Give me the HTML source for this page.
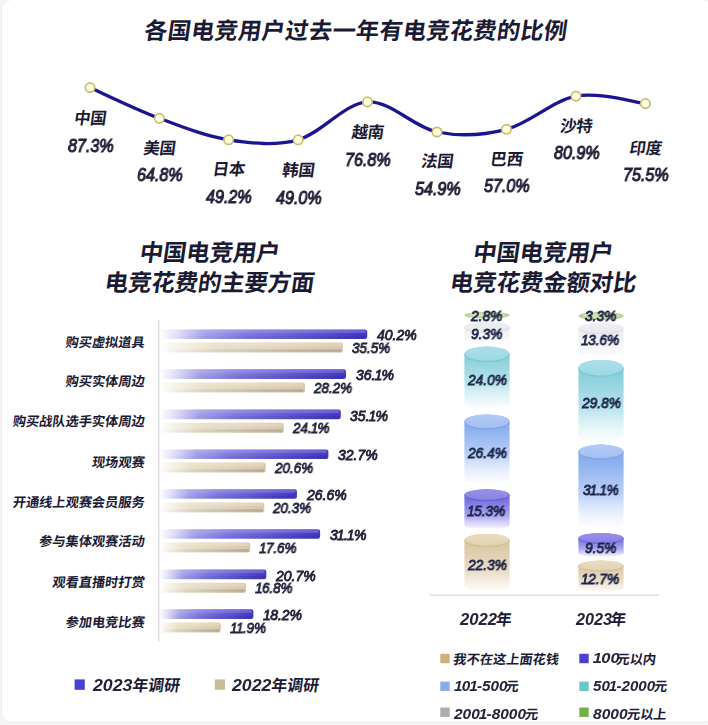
<!DOCTYPE html>
<html lang="zh-CN">
<head>
<meta charset="utf-8">
<title>各国电竞用户过去一年有电竞花费的比例</title>
<style>
html,body{margin:0;padding:0}
body{width:708px;height:725px;overflow:hidden;background:#f5f5f5;font-family:"Liberation Sans",sans-serif}
#card{position:absolute;left:0.5px;top:-1px;width:713px;height:724px;box-sizing:border-box;background:#fff;border:1px solid #ececec;border-radius:11px}
#stage{position:absolute;left:0;top:0;width:708px;height:725px;overflow:hidden}
#gfx{position:absolute;left:0;top:0}
#gfx text{font-family:"Liberation Sans","Noto Sans CJK SC",sans-serif;font-weight:700;fill:#1a1a34}
.n{position:absolute;white-space:nowrap;font-family:"Liberation Sans",sans-serif;font-weight:400;font-style:italic;color:#23233a;-webkit-text-stroke:.7px #23233a;transform-origin:0 50%;will-change:transform}
.n.d{color:#1c2548;-webkit-text-stroke-color:#1c2548}
.n.b{font-weight:700;-webkit-text-stroke-width:0}
.n b{font-weight:inherit;margin:0 -.05em 0 -.07em}
</style>
</head>
<body>
<div id="stage">
<div id="card"></div>
<svg id="gfx" width="708" height="725" viewBox="0 0 708 725">
<defs>
<linearGradient id="hl" x1="0" y1="0" x2="1" y2="0"><stop offset="0" stop-color="#fff" stop-opacity="0"/><stop offset=".3" stop-color="#fff" stop-opacity=".12"/><stop offset="1" stop-color="#fff" stop-opacity=".2"/></linearGradient>
<linearGradient id="sh" x1="0" y1="0" x2="1" y2="0"><stop offset="0" stop-color="#10103a" stop-opacity="0"/><stop offset=".3" stop-color="#10103a" stop-opacity=".06"/><stop offset="1" stop-color="#10103a" stop-opacity=".16"/></linearGradient>
<linearGradient id="gp" x1="0" y1="0" x2="1" y2="0"><stop offset="0" stop-color="#9a96e8" stop-opacity="0"/><stop offset=".08" stop-color="#9a96e8" stop-opacity=".28"/><stop offset=".22" stop-color="#9591e5" stop-opacity=".85"/><stop offset=".42" stop-color="#807ae0"/><stop offset="1" stop-color="#4236c6"/></linearGradient>
<linearGradient id="gb" x1="0" y1="0" x2="1" y2="0"><stop offset="0" stop-color="#ebe2cd" stop-opacity="0"/><stop offset=".1" stop-color="#ebe2cd" stop-opacity=".4"/><stop offset=".3" stop-color="#e8dec8" stop-opacity=".95"/><stop offset="1" stop-color="#d8c8aa"/></linearGradient>
<linearGradient id="cgy" x1="0" y1="0" x2="0" y2="1"><stop offset="0" stop-color="#e7e7ec"/><stop offset="1" stop-color="#f3f3f6" stop-opacity=".4"/></linearGradient>
<linearGradient id="ctl" x1="0" y1="0" x2="0" y2="1"><stop offset="0" stop-color="#80cad8"/><stop offset=".2" stop-color="#8bd0dc"/><stop offset=".6" stop-color="#b9e4ec"/><stop offset="1" stop-color="#ecf8f9" stop-opacity=".35"/></linearGradient>
<linearGradient id="cbl" x1="0" y1="0" x2="0" y2="1"><stop offset="0" stop-color="#84a9ec"/><stop offset=".2" stop-color="#8cafee"/><stop offset=".6" stop-color="#bcd1f7"/><stop offset="1" stop-color="#f2f6fe" stop-opacity=".3"/></linearGradient>
<linearGradient id="cpu" x1="0" y1="0" x2="0" y2="1"><stop offset="0" stop-color="#6c64dc"/><stop offset=".3" stop-color="#7a73e1"/><stop offset=".7" stop-color="#b0abf0"/><stop offset="1" stop-color="#e6e4fb" stop-opacity=".6"/></linearGradient>
<linearGradient id="cbe" x1="0" y1="0" x2="0" y2="1"><stop offset="0" stop-color="#d6c29c"/><stop offset=".25" stop-color="#dccaa8"/><stop offset=".7" stop-color="#ecdfcb"/><stop offset="1" stop-color="#f7f3ea" stop-opacity=".5"/></linearGradient>
<linearGradient id="tgy" x1="0" y1="0" x2="0" y2="1"><stop offset="0" stop-color="#efeff3"/><stop offset="1" stop-color="#e8e8ed"/></linearGradient>
<linearGradient id="ttl" x1="0" y1="0" x2="0" y2="1"><stop offset="0" stop-color="#acdfe8"/><stop offset="1" stop-color="#9ad8e2"/></linearGradient>
<linearGradient id="tbl" x1="0" y1="0" x2="0" y2="1"><stop offset="0" stop-color="#b2caf5"/><stop offset="1" stop-color="#a2bef1"/></linearGradient>
<linearGradient id="tpu" x1="0" y1="0" x2="0" y2="1"><stop offset="0" stop-color="#9891e9"/><stop offset="1" stop-color="#8881e4"/></linearGradient>
<linearGradient id="tbe" x1="0" y1="0" x2="0" y2="1"><stop offset="0" stop-color="#ebdcc0"/><stop offset="1" stop-color="#e2d2b2"/></linearGradient>
</defs>
<path d="M90.0 87.6C101.5 92.7 136.2 109.6 159.3 118.3C182.4 127.0 205.4 136.2 228.6 139.8C251.8 143.4 275.1 146.1 298.2 139.8C321.3 133.5 344.4 103.2 367.5 101.9C390.6 100.6 413.9 127.4 437.0 132.0C460.1 136.6 483.2 135.3 506.4 129.3C529.6 123.3 552.8 100.4 576.0 96.1C599.2 91.8 633.8 102.3 645.4 103.6" fill="none" stroke="#1c1590" stroke-width="3.3" stroke-linecap="round"/>
<circle cx="90.0" cy="87.6" r="4.7" fill="#fffde2" stroke="#c6c06c" stroke-width="1.7"/>
<circle cx="159.3" cy="118.3" r="4.7" fill="#fffde2" stroke="#c6c06c" stroke-width="1.7"/>
<circle cx="228.6" cy="139.8" r="4.7" fill="#fffde2" stroke="#c6c06c" stroke-width="1.7"/>
<circle cx="298.2" cy="139.8" r="4.7" fill="#fffde2" stroke="#c6c06c" stroke-width="1.7"/>
<circle cx="367.5" cy="101.9" r="4.7" fill="#fffde2" stroke="#c6c06c" stroke-width="1.7"/>
<circle cx="437.0" cy="132.0" r="4.7" fill="#fffde2" stroke="#c6c06c" stroke-width="1.7"/>
<circle cx="506.4" cy="129.3" r="4.7" fill="#fffde2" stroke="#c6c06c" stroke-width="1.7"/>
<circle cx="576.0" cy="96.1" r="4.7" fill="#fffde2" stroke="#c6c06c" stroke-width="1.7"/>
<circle cx="645.4" cy="103.6" r="4.7" fill="#fffde2" stroke="#c6c06c" stroke-width="1.7"/>
<rect x="158.0" y="320" width="1.4" height="321.5" fill="#dcdce0"/>
<path d="M159.2 329.4h205.8q2.2 0 2.2 2.2v5.2q0 2.2 -2.2 2.2h-205.8z" fill="url(#gp)"/>
<path d="M159.2 342.6h181.5q2.2 0 2.2 2.2v5.6q0 2.2 -2.2 2.2h-181.5z" fill="url(#gb)"/>
<rect x="159.2" y="329.8" width="206.4" height="3.1" fill="url(#hl)"/>
<rect x="159.2" y="335.7" width="206.4" height="3.0" fill="url(#sh)"/>
<rect x="159.2" y="343.0" width="182.1" height="3.2" fill="url(#hl)"/>
<rect x="159.2" y="349.2" width="182.1" height="3.1" fill="url(#sh)"/>
<path d="M159.2 369.3h184.6q2.2 0 2.2 2.2v5.2q0 2.2 -2.2 2.2h-184.6z" fill="url(#gp)"/>
<path d="M159.2 382.5h143.7q2.2 0 2.2 2.2v5.6q0 2.2 -2.2 2.2h-143.7z" fill="url(#gb)"/>
<rect x="159.2" y="369.7" width="185.2" height="3.1" fill="url(#hl)"/>
<rect x="159.2" y="375.6" width="185.2" height="3.0" fill="url(#sh)"/>
<rect x="159.2" y="382.9" width="144.3" height="3.2" fill="url(#hl)"/>
<rect x="159.2" y="389.1" width="144.3" height="3.1" fill="url(#sh)"/>
<path d="M159.2 409.6h179.4q2.2 0 2.2 2.2v5.2q0 2.2 -2.2 2.2h-179.4z" fill="url(#gp)"/>
<path d="M159.2 422.8h122.5q2.2 0 2.2 2.2v5.6q0 2.2 -2.2 2.2h-122.5z" fill="url(#gb)"/>
<rect x="159.2" y="410.0" width="180.0" height="3.1" fill="url(#hl)"/>
<rect x="159.2" y="415.9" width="180.0" height="3.0" fill="url(#sh)"/>
<rect x="159.2" y="423.2" width="123.1" height="3.2" fill="url(#hl)"/>
<rect x="159.2" y="429.4" width="123.1" height="3.1" fill="url(#sh)"/>
<path d="M159.2 449.4h167.0q2.2 0 2.2 2.2v5.2q0 2.2 -2.2 2.2h-167.0z" fill="url(#gp)"/>
<path d="M159.2 462.6h104.4q2.2 0 2.2 2.2v5.6q0 2.2 -2.2 2.2h-104.4z" fill="url(#gb)"/>
<rect x="159.2" y="449.8" width="167.6" height="3.1" fill="url(#hl)"/>
<rect x="159.2" y="455.7" width="167.6" height="3.0" fill="url(#sh)"/>
<rect x="159.2" y="463.0" width="105.0" height="3.2" fill="url(#hl)"/>
<rect x="159.2" y="469.2" width="105.0" height="3.1" fill="url(#sh)"/>
<path d="M159.2 489.2h135.5q2.2 0 2.2 2.2v5.2q0 2.2 -2.2 2.2h-135.5z" fill="url(#gp)"/>
<path d="M159.2 502.4h102.9q2.2 0 2.2 2.2v5.6q0 2.2 -2.2 2.2h-102.9z" fill="url(#gb)"/>
<rect x="159.2" y="489.6" width="136.1" height="3.1" fill="url(#hl)"/>
<rect x="159.2" y="495.5" width="136.1" height="3.0" fill="url(#sh)"/>
<rect x="159.2" y="502.8" width="103.5" height="3.2" fill="url(#hl)"/>
<rect x="159.2" y="509.0" width="103.5" height="3.1" fill="url(#sh)"/>
<path d="M159.2 529.2h158.7q2.2 0 2.2 2.2v5.2q0 2.2 -2.2 2.2h-158.7z" fill="url(#gp)"/>
<path d="M159.2 542.4h88.9q2.2 0 2.2 2.2v5.6q0 2.2 -2.2 2.2h-88.9z" fill="url(#gb)"/>
<rect x="159.2" y="529.6" width="159.3" height="3.1" fill="url(#hl)"/>
<rect x="159.2" y="535.5" width="159.3" height="3.0" fill="url(#sh)"/>
<rect x="159.2" y="542.8" width="89.5" height="3.2" fill="url(#hl)"/>
<rect x="159.2" y="549.0" width="89.5" height="3.1" fill="url(#sh)"/>
<path d="M159.2 569.6h104.9q2.2 0 2.2 2.2v5.2q0 2.2 -2.2 2.2h-104.9z" fill="url(#gp)"/>
<path d="M159.2 582.8h84.7q2.2 0 2.2 2.2v5.6q0 2.2 -2.2 2.2h-84.7z" fill="url(#gb)"/>
<rect x="159.2" y="570.0" width="105.5" height="3.1" fill="url(#hl)"/>
<rect x="159.2" y="575.9" width="105.5" height="3.0" fill="url(#sh)"/>
<rect x="159.2" y="583.2" width="85.3" height="3.2" fill="url(#hl)"/>
<rect x="159.2" y="589.4" width="85.3" height="3.1" fill="url(#sh)"/>
<path d="M159.2 609.3h92.0q2.2 0 2.2 2.2v5.2q0 2.2 -2.2 2.2h-92.0z" fill="url(#gp)"/>
<path d="M159.2 622.5h59.4q2.2 0 2.2 2.2v5.6q0 2.2 -2.2 2.2h-59.4z" fill="url(#gb)"/>
<rect x="159.2" y="609.7" width="92.6" height="3.1" fill="url(#hl)"/>
<rect x="159.2" y="615.6" width="92.6" height="3.0" fill="url(#sh)"/>
<rect x="159.2" y="622.9" width="60.0" height="3.2" fill="url(#hl)"/>
<rect x="159.2" y="629.1" width="60.0" height="3.1" fill="url(#sh)"/>
<rect x="74.6" y="679.4" width="10.2" height="10.4" fill="#4a40d0"/>
<rect x="214.8" y="679.4" width="10.2" height="10.4" fill="#c9bb94"/>
<ellipse cx="487" cy="315.2" rx="22.6" ry="3.4" fill="#bfd398"/>
<ellipse cx="487" cy="314.9" rx="18.1" ry="1.9" fill="#cfe0b4"/>
<path d="M464.4 327.2V339.0A22.6 3.0 0 0 0 509.6 339.0V327.2A22.6 5.5 0 0 0 464.4 327.2z" fill="url(#cgy)"/>
<ellipse cx="487" cy="327.2" rx="22.6" ry="5.5" fill="url(#tgy)"/>
<path d="M464.8 327.2A22.2 5.5 0 0 0 509.2 327.2" fill="none" stroke="#cfcfd8" stroke-opacity=".45" stroke-width="1.1"/>
<path d="M464.4 354.0V404.4A22.6 4.1 0 0 0 509.6 404.4V354.0A22.6 7.4 0 0 0 464.4 354.0z" fill="url(#ctl)"/>
<ellipse cx="487" cy="354.0" rx="22.6" ry="7.4" fill="url(#ttl)"/>
<path d="M464.8 354.0A22.2 7.4 0 0 0 509.2 354.0" fill="none" stroke="#56b4c6" stroke-opacity=".45" stroke-width="1.1"/>
<path d="M464.4 421.6V479.5A22.6 4.0 0 0 0 509.6 479.5V421.6A22.6 7.2 0 0 0 464.4 421.6z" fill="url(#cbl)"/>
<ellipse cx="487" cy="421.6" rx="22.6" ry="7.2" fill="url(#tbl)"/>
<path d="M464.8 421.6A22.2 7.2 0 0 0 509.2 421.6" fill="none" stroke="#5a8ade" stroke-opacity=".45" stroke-width="1.1"/>
<path d="M464.4 494.9V525.4A22.6 3.1 0 0 0 509.6 525.4V494.9A22.6 5.6 0 0 0 464.4 494.9z" fill="url(#cpu)"/>
<ellipse cx="487" cy="494.9" rx="22.6" ry="5.6" fill="url(#tpu)"/>
<path d="M464.8 494.9A22.2 5.6 0 0 0 509.2 494.9" fill="none" stroke="#4a42c4" stroke-opacity=".45" stroke-width="1.1"/>
<path d="M464.4 540.1V586.6A22.6 3.4 0 0 0 509.6 586.6V540.1A22.6 6.2 0 0 0 464.4 540.1z" fill="url(#cbe)"/>
<ellipse cx="487" cy="540.1" rx="22.6" ry="6.2" fill="url(#tbe)"/>
<path d="M464.8 540.1A22.2 6.2 0 0 0 509.2 540.1" fill="none" stroke="#bfa67a" stroke-opacity=".45" stroke-width="1.1"/>
<ellipse cx="601" cy="316" rx="22.6" ry="4.1" fill="#bfd398"/>
<ellipse cx="601" cy="315.7" rx="18.1" ry="2.6" fill="#cfe0b4"/>
<path d="M578.4 328.5V352.5A22.6 3.0 0 0 0 623.6 352.5V328.5A22.6 5.5 0 0 0 578.4 328.5z" fill="url(#cgy)"/>
<ellipse cx="601" cy="328.5" rx="22.6" ry="5.5" fill="url(#tgy)"/>
<path d="M578.8 328.5A22.2 5.5 0 0 0 623.2 328.5" fill="none" stroke="#cfcfd8" stroke-opacity=".45" stroke-width="1.1"/>
<path d="M578.4 368.0V437.1A22.6 4.4 0 0 0 623.6 437.1V368.0A22.6 8.0 0 0 0 578.4 368.0z" fill="url(#ctl)"/>
<ellipse cx="601" cy="368.0" rx="22.6" ry="8.0" fill="url(#ttl)"/>
<path d="M578.8 368.0A22.2 8.0 0 0 0 623.2 368.0" fill="none" stroke="#56b4c6" stroke-opacity=".45" stroke-width="1.1"/>
<path d="M578.4 451.8V524.0A22.6 4.0 0 0 0 623.6 524.0V451.8A22.6 7.2 0 0 0 578.4 451.8z" fill="url(#cbl)"/>
<ellipse cx="601" cy="451.8" rx="22.6" ry="7.2" fill="url(#tbl)"/>
<path d="M578.8 451.8A22.2 7.2 0 0 0 623.2 451.8" fill="none" stroke="#5a8ade" stroke-opacity=".45" stroke-width="1.1"/>
<path d="M578.4 538.2V553.6A22.6 2.9 0 0 0 623.6 553.6V538.2A22.6 5.2 0 0 0 578.4 538.2z" fill="url(#cpu)"/>
<ellipse cx="601" cy="538.2" rx="22.6" ry="5.2" fill="url(#tpu)"/>
<path d="M578.8 538.2A22.2 5.2 0 0 0 623.2 538.2" fill="none" stroke="#4a42c4" stroke-opacity=".45" stroke-width="1.1"/>
<path d="M578.4 565.8V588.6A22.6 2.9 0 0 0 623.6 588.6V565.8A22.6 5.2 0 0 0 578.4 565.8z" fill="url(#cbe)"/>
<ellipse cx="601" cy="565.8" rx="22.6" ry="5.2" fill="url(#tbe)"/>
<path d="M578.8 565.8A22.2 5.2 0 0 0 623.2 565.8" fill="none" stroke="#bfa67a" stroke-opacity=".45" stroke-width="1.1"/>
<rect x="430" y="594.5" width="229" height="1.3" fill="#d9d9dd"/>
<rect x="440.3" y="653.8" width="9.4" height="9.4" fill="#cdb27c"/>
<rect x="579.3" y="653.8" width="9.4" height="9.4" fill="#4b3fd0"/>
<rect x="440.3" y="681.6" width="9.4" height="9.4" fill="#8aaae8"/>
<rect x="579.3" y="681.6" width="9.4" height="9.4" fill="#6cc8c4"/>
<rect x="440.3" y="707.5" width="9.4" height="9.4" fill="#adadad"/>
<rect x="579.3" y="707.5" width="9.4" height="9.4" fill="#78b048"/>
<g transform="translate(144.56 30.20) skewX(-8)"><text x="0" y="8.55" font-size="23.2" letter-spacing="0.32">各国电竞用户过去一年有电竞花费的比例</text></g>
<g transform="translate(140.00 252.60) skewX(-8)"><text x="0" y="8.59" font-size="23.5" letter-spacing="-0.21">中国电竞用户</text></g>
<g transform="translate(105.05 282.20) skewX(-8)"><text x="0" y="8.59" font-size="23.5" letter-spacing="-0.21">电竞花费的主要方面</text></g>
<g transform="translate(473.50 252.60) skewX(-8)"><text x="0" y="8.59" font-size="23.5" letter-spacing="-0.21">中国电竞用户</text></g>
<g transform="translate(450.20 282.20) skewX(-8)"><text x="0" y="8.59" font-size="23.5" letter-spacing="-0.21">电竞花费金额对比</text></g>
<g transform="translate(74.19 118.00) skewX(-8)"><text x="0" y="5.78" font-size="16.4" letter-spacing="-0.21">中国</text></g>
<g transform="translate(143.49 148.00) skewX(-8)"><text x="0" y="5.78" font-size="16.4" letter-spacing="-0.21">美国</text></g>
<g transform="translate(212.79 169.30) skewX(-8)"><text x="0" y="5.78" font-size="16.4" letter-spacing="-0.21">日本</text></g>
<g transform="translate(282.39 170.00) skewX(-8)"><text x="0" y="5.78" font-size="16.4" letter-spacing="-0.21">韩国</text></g>
<g transform="translate(351.69 132.00) skewX(-8)"><text x="0" y="5.78" font-size="16.4" letter-spacing="-0.21">越南</text></g>
<g transform="translate(421.19 161.20) skewX(-8)"><text x="0" y="5.78" font-size="16.4" letter-spacing="-0.21">法国</text></g>
<g transform="translate(490.59 159.20) skewX(-8)"><text x="0" y="5.78" font-size="16.4" letter-spacing="-0.21">巴西</text></g>
<g transform="translate(560.19 126.20) skewX(-8)"><text x="0" y="5.78" font-size="16.4" letter-spacing="-0.21">沙特</text></g>
<g transform="translate(629.59 148.40) skewX(-8)"><text x="0" y="5.78" font-size="16.4" letter-spacing="-0.21">印度</text></g>
<g transform="translate(65.73 341.80) skewX(-8)"><text x="0" y="5.02" font-size="13.2">购买虚拟道具</text></g>
<g transform="translate(65.73 381.40) skewX(-8)"><text x="0" y="5.02" font-size="13.2">购买实体周边</text></g>
<g transform="translate(12.93 421.20) skewX(-8)"><text x="0" y="5.02" font-size="13.2">购买战队选手实体周边</text></g>
<g transform="translate(92.13 461.60) skewX(-8)"><text x="0" y="5.02" font-size="13.2">现场观赛</text></g>
<g transform="translate(12.93 502.30) skewX(-8)"><text x="0" y="5.02" font-size="13.2">开通线上观赛会员服务</text></g>
<g transform="translate(39.33 541.40) skewX(-8)"><text x="0" y="5.02" font-size="13.2">参与集体观赛活动</text></g>
<g transform="translate(52.53 581.60) skewX(-8)"><text x="0" y="5.02" font-size="13.2">观看直播时打赏</text></g>
<g transform="translate(65.73 621.50) skewX(-8)"><text x="0" y="5.02" font-size="13.2">参加电竞比赛</text></g>
<g transform="translate(132.45 685.20) skewX(-8)"><text x="0" y="5.81" font-size="15.9" letter-spacing="0.1">年调研</text></g>
<g transform="translate(271.45 685.20) skewX(-8)"><text x="0" y="5.81" font-size="15.9" letter-spacing="0.1">年调研</text></g>
<g transform="translate(496.06 619.20) skewX(-8)"><text x="0" y="5.7" font-size="15.75">年</text></g>
<g transform="translate(610.55 619.20) skewX(-8)"><text x="0" y="5.7" font-size="15.75">年</text></g>
<g transform="translate(453.41 658.60) skewX(-8)"><text x="0" y="5.02" font-size="13.2" letter-spacing="0.05">我不在这上面花钱</text></g>
<g transform="translate(616.71 658.60) skewX(-8)"><text x="0" y="5.02" font-size="13.2">元以内</text></g>
<g transform="translate(505.71 685.80) skewX(-8)"><text x="0" y="5.02" font-size="13.2">元</text></g>
<g transform="translate(654.21 685.80) skewX(-8)"><text x="0" y="5.02" font-size="13.2">元</text></g>
<g transform="translate(525.21 714.00) skewX(-8)"><text x="0" y="5.02" font-size="13.2">元</text></g>
<g transform="translate(627.21 714.00) skewX(-8)"><text x="0" y="5.02" font-size="13.2">元以上</text></g>
</svg>
<div class="n" style="left:67.5px;top:135.6px;font-size:18px;height:21.6px;line-height:21.6px;-webkit-text-stroke-width:1.04px;transform:scaleX(0.895)">87.3%</div>
<div class="n" style="left:136.8px;top:165.4px;font-size:18px;height:21.6px;line-height:21.6px;-webkit-text-stroke-width:1.04px;transform:scaleX(0.895)">64.8%</div>
<div class="n" style="left:206.1px;top:187.4px;font-size:18px;height:21.6px;line-height:21.6px;-webkit-text-stroke-width:1.04px;transform:scaleX(0.895)">49.2%</div>
<div class="n" style="left:275.7px;top:187.6px;font-size:18px;height:21.6px;line-height:21.6px;-webkit-text-stroke-width:1.04px;transform:scaleX(0.895)">49.0%</div>
<div class="n" style="left:345.0px;top:149.8px;font-size:18px;height:21.6px;line-height:21.6px;-webkit-text-stroke-width:1.04px;transform:scaleX(0.895)">76.8%</div>
<div class="n" style="left:414.5px;top:179.1px;font-size:18px;height:21.6px;line-height:21.6px;-webkit-text-stroke-width:1.04px;transform:scaleX(0.895)">54.9%</div>
<div class="n" style="left:483.9px;top:176.1px;font-size:18px;height:21.6px;line-height:21.6px;-webkit-text-stroke-width:1.04px;transform:scaleX(0.895)">57.0%</div>
<div class="n" style="left:553.5px;top:143.3px;font-size:18px;height:21.6px;line-height:21.6px;-webkit-text-stroke-width:1.04px;transform:scaleX(0.895)">80.9%</div>
<div class="n" style="left:622.9px;top:165.2px;font-size:18px;height:21.6px;line-height:21.6px;-webkit-text-stroke-width:1.04px;transform:scaleX(0.895)">75.5%</div>
<div class="n" style="left:376.8px;top:327.2px;font-size:14px;height:16.8px;line-height:16.8px;-webkit-text-stroke-width:0.81px;transform:scaleX(1.000)">40.2%</div>
<div class="n" style="left:351.9px;top:340.2px;font-size:14px;height:16.8px;line-height:16.8px;-webkit-text-stroke-width:0.81px;transform:scaleX(0.960)">35.5%</div>
<div class="n" style="left:355.6px;top:367.2px;font-size:14px;height:16.8px;line-height:16.8px;-webkit-text-stroke-width:0.81px;transform:scaleX(1.000)">36.<b>1</b>%</div>
<div class="n" style="left:314.1px;top:380.1px;font-size:14px;height:16.8px;line-height:16.8px;-webkit-text-stroke-width:0.81px;transform:scaleX(0.960)">28.2%</div>
<div class="n" style="left:350.4px;top:407.5px;font-size:14px;height:16.8px;line-height:16.8px;-webkit-text-stroke-width:0.81px;transform:scaleX(1.000)">35.<b>1</b>%</div>
<div class="n" style="left:292.9px;top:420.4px;font-size:14px;height:16.8px;line-height:16.8px;-webkit-text-stroke-width:0.81px;transform:scaleX(0.960)">24.<b>1</b>%</div>
<div class="n" style="left:338.0px;top:447.2px;font-size:14px;height:16.8px;line-height:16.8px;-webkit-text-stroke-width:0.81px;transform:scaleX(1.000)">32.7%</div>
<div class="n" style="left:274.8px;top:460.2px;font-size:14px;height:16.8px;line-height:16.8px;-webkit-text-stroke-width:0.81px;transform:scaleX(0.960)">20.6%</div>
<div class="n" style="left:306.5px;top:487.1px;font-size:14px;height:16.8px;line-height:16.8px;-webkit-text-stroke-width:0.81px;transform:scaleX(1.000)">26.6%</div>
<div class="n" style="left:273.3px;top:500.0px;font-size:14px;height:16.8px;line-height:16.8px;-webkit-text-stroke-width:0.81px;transform:scaleX(0.960)">20.3%</div>
<div class="n" style="left:329.7px;top:527.1px;font-size:14px;height:16.8px;line-height:16.8px;-webkit-text-stroke-width:0.81px;transform:scaleX(1.000)">3<b>1</b>.<b>1</b>%</div>
<div class="n" style="left:260.2px;top:540.0px;font-size:14px;height:16.8px;line-height:16.8px;-webkit-text-stroke-width:0.81px;transform:scaleX(0.960)"><b>1</b>7.6%</div>
<div class="n" style="left:275.9px;top:567.5px;font-size:14px;height:16.8px;line-height:16.8px;-webkit-text-stroke-width:0.81px;transform:scaleX(1.000)">20.7%</div>
<div class="n" style="left:256.1px;top:580.4px;font-size:14px;height:16.8px;line-height:16.8px;-webkit-text-stroke-width:0.81px;transform:scaleX(0.960)"><b>1</b>6.8%</div>
<div class="n" style="left:264.0px;top:607.1px;font-size:14px;height:16.8px;line-height:16.8px;-webkit-text-stroke-width:0.81px;transform:scaleX(1.000)"><b>1</b>8.2%</div>
<div class="n" style="left:230.7px;top:620.0px;font-size:14px;height:16.8px;line-height:16.8px;-webkit-text-stroke-width:0.81px;transform:scaleX(0.960)"><b>1</b><b>1</b>.9%</div>
<div class="n d" style="left:471.4px;top:308.2px;font-size:14px;height:16.8px;line-height:16.8px;-webkit-text-stroke-width:0.81px;transform:scaleX(0.980)">2.8%</div>
<div class="n d" style="left:471.4px;top:325.6px;font-size:14px;height:16.8px;line-height:16.8px;-webkit-text-stroke-width:0.81px;transform:scaleX(0.980)">9.3%</div>
<div class="n d" style="left:467.6px;top:372.4px;font-size:14px;height:16.8px;line-height:16.8px;-webkit-text-stroke-width:0.81px;transform:scaleX(0.980)">24.0%</div>
<div class="n d" style="left:467.6px;top:444.6px;font-size:14px;height:16.8px;line-height:16.8px;-webkit-text-stroke-width:0.81px;transform:scaleX(0.980)">26.4%</div>
<div class="n d" style="left:468.4px;top:503.2px;font-size:14px;height:16.8px;line-height:16.8px;-webkit-text-stroke-width:0.81px;transform:scaleX(0.980)"><b>1</b>5.3%</div>
<div class="n d" style="left:467.6px;top:557.4px;font-size:14px;height:16.8px;line-height:16.8px;-webkit-text-stroke-width:0.81px;transform:scaleX(0.980)">22.3%</div>
<div class="n d" style="left:585.4px;top:308.4px;font-size:14px;height:16.8px;line-height:16.8px;-webkit-text-stroke-width:0.81px;transform:scaleX(0.980)">3.3%</div>
<div class="n d" style="left:582.4px;top:332.4px;font-size:14px;height:16.8px;line-height:16.8px;-webkit-text-stroke-width:0.81px;transform:scaleX(0.980)"><b>1</b>3.6%</div>
<div class="n d" style="left:581.6px;top:394.8px;font-size:14px;height:16.8px;line-height:16.8px;-webkit-text-stroke-width:0.81px;transform:scaleX(0.980)">29.8%</div>
<div class="n d" style="left:583.2px;top:481.6px;font-size:14px;height:16.8px;line-height:16.8px;-webkit-text-stroke-width:0.81px;transform:scaleX(0.980)">3<b>1</b>.<b>1</b>%</div>
<div class="n d" style="left:585.4px;top:539.6px;font-size:14px;height:16.8px;line-height:16.8px;-webkit-text-stroke-width:0.81px;transform:scaleX(0.980)">9.5%</div>
<div class="n d" style="left:582.4px;top:570.8px;font-size:14px;height:16.8px;line-height:16.8px;-webkit-text-stroke-width:0.81px;transform:scaleX(0.980)"><b>1</b>2.7%</div>
<div class="n b" style="left:460.2px;top:610.0px;font-size:16px;height:19.2px;line-height:19.2px;transform:scaleX(1.040)">2022</div>
<div class="n b" style="left:576.2px;top:610.0px;font-size:16px;height:19.2px;line-height:19.2px;transform:scaleX(1.012)">2023</div>
<div class="n b" style="left:93.0px;top:676.1px;font-size:16.5px;height:19.8px;line-height:19.8px;transform:scaleX(1.074)">2023</div>
<div class="n b" style="left:232.4px;top:676.1px;font-size:16.5px;height:19.8px;line-height:19.8px;transform:scaleX(1.074)">2022</div>
<div class="n b" style="left:593.8px;top:650.0px;font-size:14.5px;height:17.4px;line-height:17.4px;transform:scaleX(1.136)"><b>1</b>00</div>
<div class="n b" style="left:455.1px;top:677.6px;font-size:14.5px;height:17.4px;line-height:17.4px;transform:scaleX(1.056)"><b>1</b>0<b>1</b>-500</div>
<div class="n b" style="left:592.6px;top:677.6px;font-size:14.5px;height:17.4px;line-height:17.4px;transform:scaleX(1.042)">50<b>1</b>-2000</div>
<div class="n b" style="left:454.0px;top:706.1px;font-size:14.5px;height:17.4px;line-height:17.4px;transform:scaleX(1.065)">200<b>1</b>-8000</div>
<div class="n b" style="left:592.6px;top:706.1px;font-size:14.5px;height:17.4px;line-height:17.4px;transform:scaleX(1.070)">8000</div>
</div>
</body>
</html>
